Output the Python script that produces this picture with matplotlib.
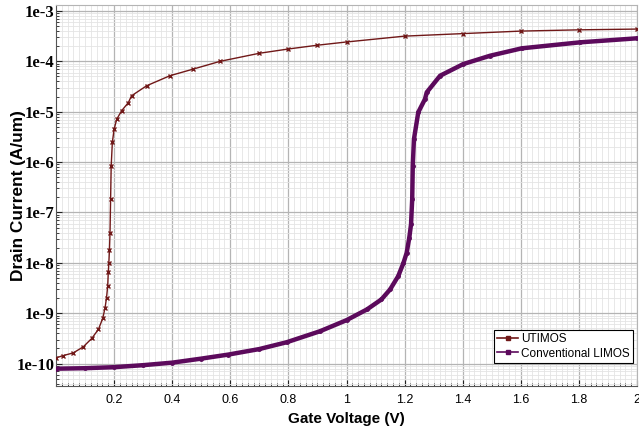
import numpy as np
import matplotlib.pyplot as plt
from matplotlib.ticker import FixedLocator, LogLocator, NullFormatter, MultipleLocator

# gate voltage (V) and log10 of drain current (A/um)
vg_utimos = [0.0, 0.025, 0.06, 0.094, 0.123, 0.146, 0.161, 0.169, 0.174, 0.178,
             0.180, 0.182, 0.184, 0.186, 0.188, 0.190, 0.194, 0.200, 0.209, 0.226,
             0.249, 0.26, 0.312, 0.392, 0.473, 0.565, 0.7, 0.8, 0.9, 1.0,
             1.2, 1.4, 1.6, 1.8, 2.0]
logid_utimos = [-9.885, -9.84, -9.785, -9.666, -9.50, -9.32, -9.10, -8.89, -8.69, -8.46,
                -8.19, -8.0, -7.75, -7.40, -6.74, -6.08, -5.61, -5.35, -5.15, -4.98,
                -4.82, -4.684, -4.485, -4.286, -4.153, -4.0, -3.84, -3.755, -3.68, -3.616,
                -3.50, -3.45, -3.40, -3.375, -3.36]

vg_limos = [0.0, 0.1, 0.2, 0.3, 0.4, 0.5, 0.593, 0.7, 0.794, 0.909,
            1.0, 1.07, 1.12, 1.15, 1.178, 1.196, 1.207, 1.216, 1.222, 1.226,
            1.228, 1.232, 1.247, 1.27, 1.276, 1.322, 1.402, 1.494, 1.603, 1.804,
            2.0]
logid_limos = [-10.1, -10.09, -10.07, -10.03, -9.98, -9.9, -9.82, -9.71, -9.575, -9.356,
               -9.137, -8.925, -8.726, -8.527, -8.262, -8.0, -7.80, -7.50, -7.235, -6.74,
               -6.07, -5.545, -5.01, -4.75, -4.616, -4.286, -4.054, -3.889, -3.742, -3.623,
               -3.543]

xticks = [0.2, 0.4, 0.6, 0.8, 1.0, 1.2, 1.4, 1.6, 1.8, 2.0]
xtick_labels = ['0.2', '0.4', '0.6', '0.8', '1', '1.2', '1.4', '1.6', '1.8', '2']
yticks = [1e-10, 1e-9, 1e-8, 1e-7, 1e-6, 1e-5, 1e-4, 1e-3]
ytick_labels = ['1e-10', '1e-9', '1e-8', '1e-7', '1e-6', '1e-5', '1e-4', '1e-3']

id_utimos = 10 ** np.array(logid_utimos)
id_limos = 10 ** np.array(logid_limos)

fig = plt.figure(figsize=(6.39, 4.33), dpi=100)
ax = fig.add_axes([0.0876, 0.1085, 0.9094, 0.8795])

ax.plot(vg_limos, id_limos, '-', color='#5c0a5c', lw=3.2, marker='o', ms=2.5,
        label='Conventional LIMOS', zorder=3)
ax.plot(vg_utimos, id_utimos, '-', color='#701818', lw=1.0, marker='x', ms=3.5,
        mew=1.0, label='UTIMOS', zorder=4)

ax.set_yscale('log')
ax.set_xlim(0, 2)
ax.set_ylim(3.6e-11, 1.3e-3)

ax.xaxis.set_major_locator(FixedLocator(xticks))
ax.set_xticklabels(xtick_labels, family='Liberation Sans', fontsize=9)
ax.xaxis.set_minor_locator(MultipleLocator(0.02))
ax.yaxis.set_major_locator(FixedLocator(yticks))
ax.set_yticklabels(ytick_labels, family='Liberation Serif', fontweight='bold', fontsize=12)
ax.yaxis.set_minor_locator(LogLocator(base=10, subs=np.arange(2, 10)))
ax.yaxis.set_minor_formatter(NullFormatter())

ax.tick_params(which='both', direction='in', color='#222222')
ax.tick_params(which='major', length=4, width=0.8)
ax.tick_params(axis='x', which='major', pad=6)
ax.tick_params(axis='y', which='major', pad=1)
ax.tick_params(which='minor', length=2.5, width=0.6)

ax.grid(which='major', color='#b4b4b4', lw=0.9)
ax.grid(which='minor', color='#e4e4e4', lw=0.6)
ax.set_axisbelow(True)
for side in ['top', 'right']:
    ax.spines[side].set_color('#b4b4b4')
for side in ['left', 'bottom']:
    ax.spines[side].set_color('#555555')

ax.set_xlabel('Gate Voltage (V)', family='Liberation Sans', fontweight='bold',
              fontsize=11, labelpad=4)
ax.set_ylabel('Drain Current (A/um)', family='Liberation Sans', fontweight='bold',
              fontsize=12.4, labelpad=-7)

handles, labels = ax.get_legend_handles_labels()
leg = ax.legend(handles[::-1], labels[::-1], loc='lower right',
                bbox_to_anchor=(0.993, 0.06), fancybox=False, framealpha=1,
                edgecolor='black', handlelength=1.8, handletextpad=0.2,
                borderpad=0.3, labelspacing=0.2, borderaxespad=0,
                prop={'family': 'Liberation Sans', 'size': 8.5})
leg.get_frame().set_linewidth(0.8)
for h in leg.legend_handles:
    h.set_linewidth(1.2)
    h.set_marker('s')
    h.set_markersize(2.5)

fig.savefig('out.png', dpi=100)
